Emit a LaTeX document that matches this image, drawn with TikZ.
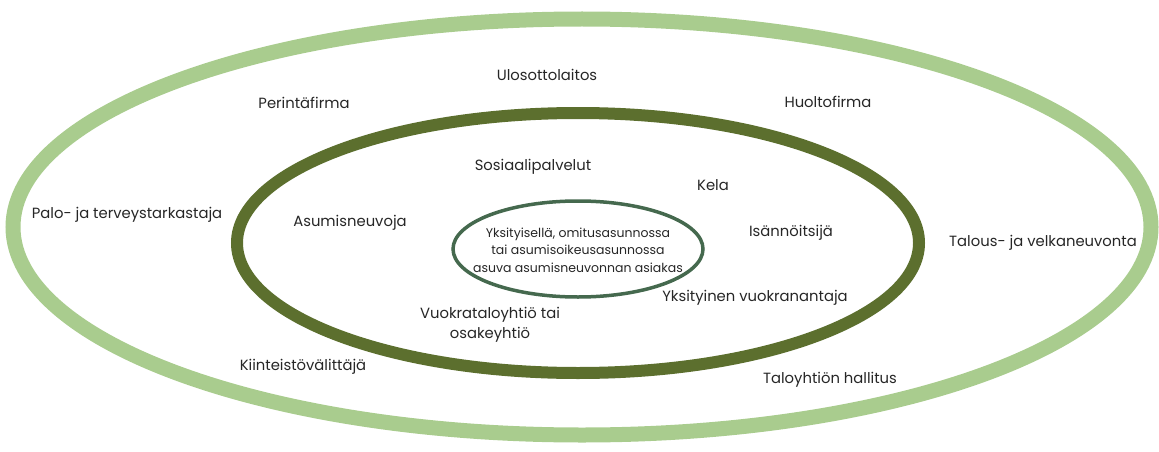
\documentclass[tikz,border=0pt]{standalone}
\usepackage{fontspec}
\setmainfont{Poppins}
\definecolor{lightleaf}{HTML}{A9CC8E}
\definecolor{olive}{HTML}{5C6F2E}
\definecolor{pine}{HTML}{45694E}
\tikzset{
  lbl/.style={font=\fontsize{14.8}{20}\selectfont, text=black!85, inner sep=1pt},
  core/.style={font=\fontsize{12.5}{17.5}\selectfont, text=black!85, align=center, inner sep=1pt}
}
\begin{document}
\begin{tikzpicture}[x=1pt, y=-1pt]
\useasboundingbox (0,0) rectangle (1159,452);
\draw[line width=15pt, lightleaf] (582,227) ellipse [x radius=569, y radius=208];
\draw[line width=12pt, olive] (578,243) ellipse [x radius=341, y radius=130];
\draw[line width=3.5pt, pine] (578,249) ellipse [x radius=125, y radius=48];
\node[core] (client) at (578,250) {Yksityisellä, omitusasunnossa\\tai asumisoikeusasunnossa\\asuva asumisneuvonnan asiakas};
\node[lbl] (ulos) at (547,75) {Ulosottolaitos};
\node[lbl] (perinta) at (304,103) {Perintäfirma};
\node[lbl] (huolto) at (828,102) {Huoltofirma};
\node[lbl] (sosiaali) at (533,167) {Sosiaalipalvelut};
\node[lbl] (kela) at (713,185) {Kela};
\node[lbl] (palo) at (127,215) {Palo- ja terveystarkastaja};
\node[lbl] (neuvoja) at (350,223) {Asumisneuvoja};
\node[lbl] (isann) at (791,233) {Isännöitsijä};
\node[lbl] (talous) at (1043,243) {Talous- ja velkaneuvonta};
\node[lbl] (vuokranantaja) at (755,298) {Yksityinen vuokranantaja};
\node[lbl, align=center] (vuokrayhtio) at (490,325) {Vuokrataloyhtiö tai\\osakeyhtiö};
\node[lbl] (kiinteisto) at (303,367) {Kiinteistövälittäjä};
\node[lbl] (hallitus) at (830,380) {Taloyhtiön hallitus};
\end{tikzpicture}
\end{document}
